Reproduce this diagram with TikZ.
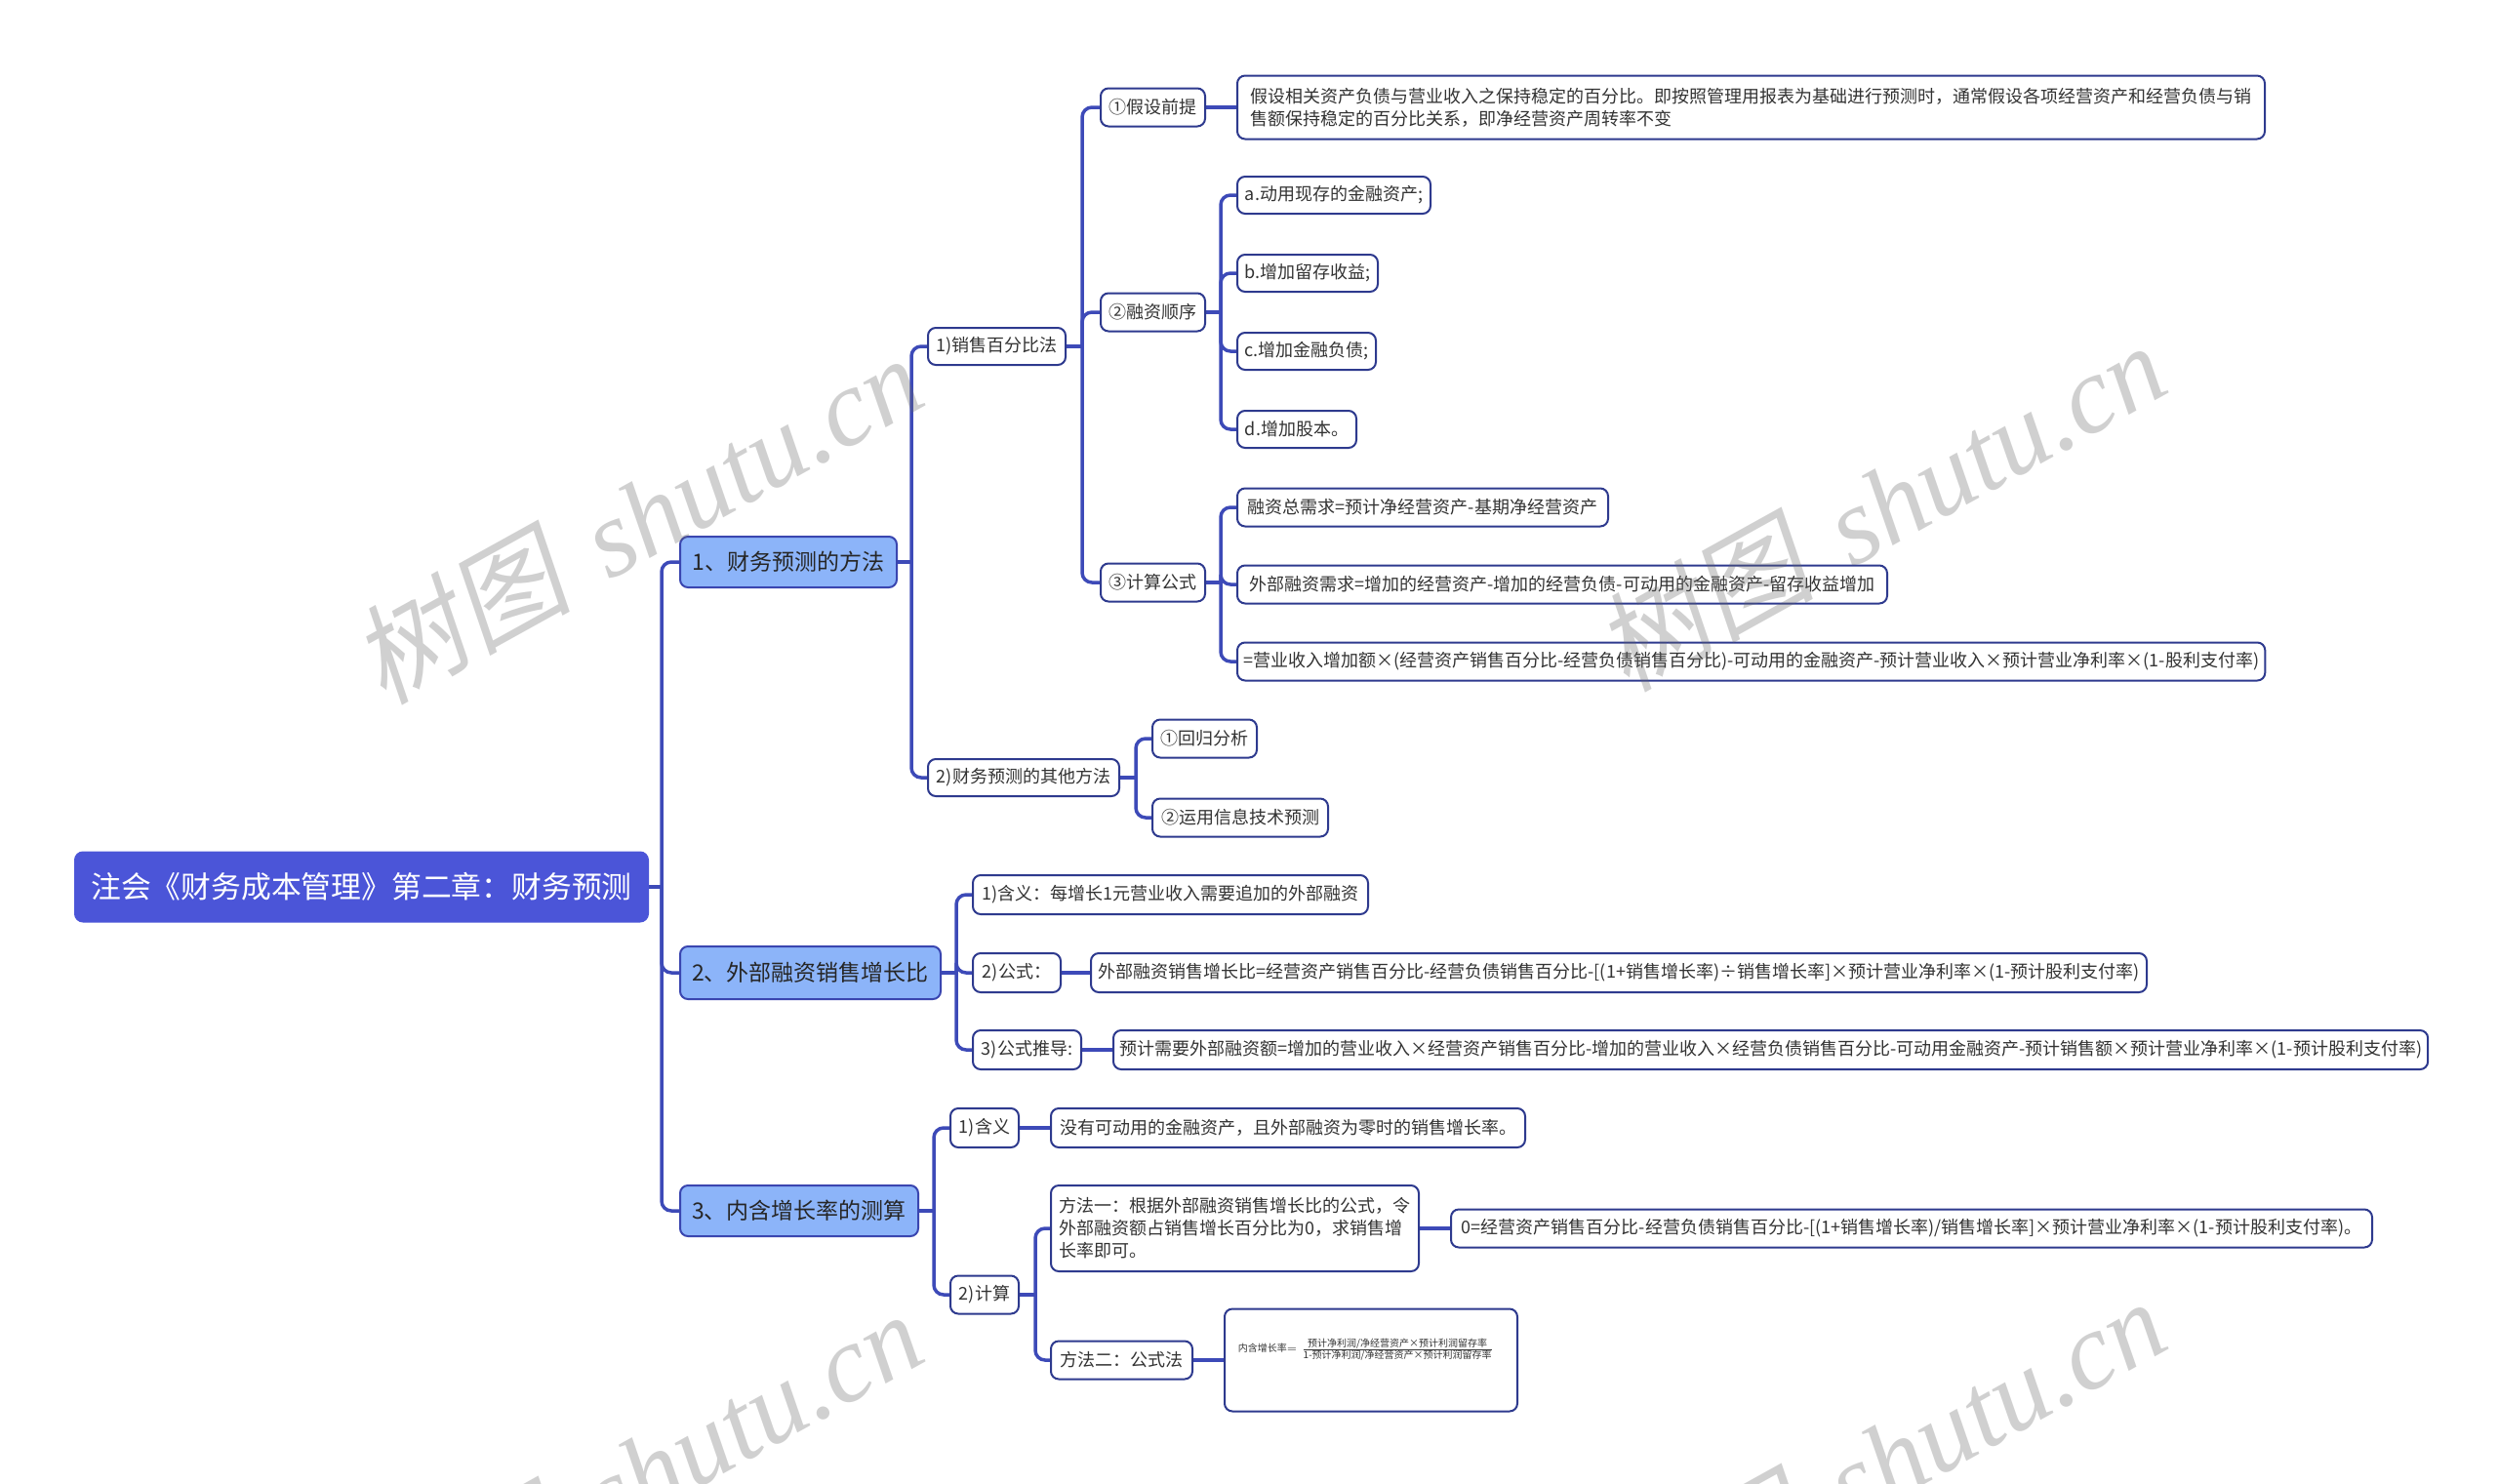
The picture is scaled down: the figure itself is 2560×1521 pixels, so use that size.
\documentclass[tikz,border=0pt]{standalone}
\usepackage{fontspec}
\setmainfont{Noto Sans CJK SC}
\newfontfamily\wmcjk[FakeSlant=0.18]{Noto Sans CJK SC}
\newfontfamily\wmlat{Liberation Serif}
\usetikzlibrary{calc}
\pgfdeclarelayer{bg}
\pgfsetlayers{bg,main}
\definecolor{rootfill}{HTML}{4B55D8}
\definecolor{lvfill}{HTML}{8CB4F9}
\definecolor{lvline}{HTML}{3A46B0}
\definecolor{boxline}{HTML}{2E3A8E}
\definecolor{connc}{HTML}{3D4AB8}
\definecolor{textc}{HTML}{333333}
\tikzset{
  box/.style={draw=boxline, line width=1pt, rounded corners=4pt, fill=white, anchor=west,
    inner xsep=3pt, inner ysep=2pt, font=\fontsize{9}{11.5}\selectfont, text=textc, align=left},
  lvone/.style={box, fill=lvfill, draw=lvline, text=black!85, font=\fontsize{11.5}{14}\selectfont},
  rootnode/.style={box, fill=rootfill, draw=rootfill, text=white, font=\fontsize{15.4}{18}\selectfont},
  conn/.style={draw=connc, line width=1.75pt},
  rconn/.style={conn, rounded corners=5pt},
  wm/.style={rotate=29, text=black!60, text opacity=0.3, inner sep=0pt}
}
\begin{document}
\begin{tikzpicture}[x=0.5pt,y=-0.5pt]
\useasboundingbox (0,0) rectangle (2560,1521);
\begin{pgfonlayer}{bg}
\fill[white] (0,0) rectangle (2560,1521);
\end{pgfonlayer}

% root and level 1
\node[rootnode, minimum width=293.5pt, minimum height=35.5pt] (root) at (76,909) {注会《财务成本管理》第二章：财务预测};
\node[lvone, minimum width=111pt, minimum height=26pt] (n1) at (696,576) {1、财务预测的方法};
\node[lvone, minimum width=133.5pt, minimum height=27pt] (n2) at (696,997) {2、外部融资销售增长比};
\node[lvone, minimum width=122pt, minimum height=26pt] (n3) at (696,1241) {3、内含增长率的测算};

% branch 1
\node[box, minimum width=70.5pt, minimum height=19pt] (a1) at (950,355) {1)销售百分比法};
\node[box, minimum width=98pt, minimum height=19pt] (a2) at (950,797) {2)财务预测的其他方法};
\node[box, minimum width=53.5pt, minimum height=19.5pt] (b1) at (1127,110) {①假设前提};
\node[box, minimum width=53.5pt, minimum height=19.5pt] (b2) at (1127,320) {②融资顺序};
\node[box, minimum width=53.5pt, minimum height=19.5pt] (b3) at (1127,597) {③计算公式};
\node[box, minimum width=526.5pt, minimum height=32.5pt] (b1L) at (1267,110) {假设相关资产负债与营业收入之保持稳定的百分比。即按照管理用报表为基础进行预测时，通常假设各项经营资产和经营负债与销\\售额保持稳定的百分比关系，即净经营资产周转率不变};
\node[box, minimum width=99pt, minimum height=19pt] (c1) at (1267,200) {a.动用现存的金融资产;};
\node[box, minimum width=72pt, minimum height=19pt] (c2) at (1267,280) {b.增加留存收益;};
\node[box, minimum width=71pt, minimum height=19pt] (c3) at (1267,360) {c.增加金融负债;};
\node[box, minimum width=61pt, minimum height=19pt] (c4) at (1267,440) {d.增加股本。};
\node[box, minimum width=190pt, minimum height=19.5pt] (d1) at (1267,520) {融资总需求=预计净经营资产-基期净经营资产};
\node[box, minimum width=333pt, minimum height=19.5pt] (d2) at (1267,599) {外部融资需求=增加的经营资产-增加的经营负债-可动用的金融资产-留存收益增加};
\node[box, minimum width=526.5pt, minimum height=19.5pt] (d3) at (1267,678) {=营业收入增加额×(经营资产销售百分比-经营负债销售百分比)-可动用的金融资产-预计营业收入×预计营业净利率×(1-股利支付率)};
\node[box, minimum width=53.5pt, minimum height=19.5pt] (e1) at (1180,757) {①回归分析};
\node[box, minimum width=90pt, minimum height=19.5pt] (e2) at (1180,838) {②运用信息技术预测};

% branch 2
\node[box, minimum width=202.5pt, minimum height=20pt] (f1) at (996,917) {1)含义：每增长1元营业收入需要追加的外部融资};
\node[box, minimum width=45pt, minimum height=20pt] (f2) at (996,997) {2)公式：};
\node[box, minimum width=55.5pt, minimum height=20pt] (f3) at (996,1076) {3)公式推导:};
\node[box, minimum width=541pt, minimum height=20pt] (f2L) at (1117,997) {外部融资销售增长比=经营资产销售百分比-经营负债销售百分比-[(1+销售增长率)÷销售增长率]×预计营业净利率×(1-预计股利支付率)};
\node[box, minimum width=671pt, minimum height=20pt] (f3L) at (1140,1076) {预计需要外部融资额=增加的营业收入×经营资产销售百分比-增加的营业收入×经营负债销售百分比-可动用金融资产-预计销售额×预计营业净利率×(1-预计股利支付率)};

% branch 3
\node[box, minimum width=35pt, minimum height=20pt] (g1) at (973,1156) {1)含义};
\node[box, minimum width=243pt, minimum height=20pt] (g1L) at (1076,1156) {没有可动用的金融资产，且外部融资为零时的销售增长率。};
\node[box, minimum width=35pt, minimum height=19.5pt] (g2) at (973,1327) {2)计算};
\node[box, minimum width=188.5pt, minimum height=44pt] (h1) at (1076,1259) {方法一：根据外部融资销售增长比的公式，令\\外部融资额占销售增长百分比为0，求销售增\\长率即可。};
\node[box, minimum width=472pt, minimum height=19.5pt] (h1L) at (1486,1259) {0=经营资产销售百分比-经营负债销售百分比-[(1+销售增长率)/销售增长率]×预计营业净利率×(1-预计股利支付率)。};
\node[box, minimum width=72.5pt, minimum height=19.5pt] (h2) at (1076,1394) {方法二：公式法};
\node[box, minimum width=150pt, minimum height=52.5pt] (h2L) at (1254,1394) {};
\node[inner sep=0pt, text=textc, font=\fontsize{5}{6}\selectfont] (fml) at (1400,1383) {内含增长率$=\frac{\mbox{预计净利润/净经营资产×预计利润留存率}}{\mbox{1-预计净利润/净经营资产×预计利润留存率}}$};

% trunk coordinates
\coordinate (t0) at (678,909);
\coordinate (t1) at (934,576);
\coordinate (t2) at (1109,355);
\coordinate (t3) at (1251,320);
\coordinate (t4) at (1251,597);
\coordinate (t5) at (1164,797);
\coordinate (t6) at (980,997);
\coordinate (t7) at (957,1241);
\coordinate (t8) at (1061,1327);

\begin{pgfonlayer}{bg}
\draw[conn] (root.east) -- (t0);
\foreach \c in {n1,n2,n3} \draw[rconn] (t0) |- (\c.west);
\draw[conn] (n1.east) -- (t1);
\foreach \c in {a1,a2} \draw[rconn] (t1) |- (\c.west);
\draw[conn] (a1.east) -- (t2);
\foreach \c in {b1,b2,b3} \draw[rconn] (t2) |- (\c.west);
\draw[conn] (b1.east) -- (b1L.west);
\draw[conn] (b2.east) -- (t3);
\foreach \c in {c1,c2,c3,c4} \draw[rconn] (t3) |- (\c.west);
\draw[conn] (b3.east) -- (t4);
\foreach \c in {d1,d2,d3} \draw[rconn] (t4) |- (\c.west);
\draw[conn] (a2.east) -- (t5);
\foreach \c in {e1,e2} \draw[rconn] (t5) |- (\c.west);
\draw[conn] (n2.east) -- (t6);
\foreach \c in {f1,f2,f3} \draw[rconn] (t6) |- (\c.west);
\draw[conn] (f2.east) -- (f2L.west);
\draw[conn] (f3.east) -- (f3L.west);
\draw[conn] (n3.east) -- (t7);
\foreach \c in {g1,g2} \draw[rconn] (t7) |- (\c.west);
\draw[conn] (g1.east) -- (g1L.west);
\draw[conn] (g2.east) -- (t8);
\foreach \c in {h1,h2} \draw[rconn] (t8) |- (\c.west);
\draw[conn] (h1.east) -- (h1L.west);
\draw[conn] (h2.east) -- (h2L.west);
\end{pgfonlayer}

% watermarks
\begin{scope}
\clip (0,0) rectangle (2560,1521);
\node[wm] (wm1) at (653,531) {\fontsize{56}{60}\selectfont{\wmcjk 树图}\hspace{0.35em}{\wmlat\itshape shutu.cn}};
\node[wm] (wm2) at (1927,518) {\fontsize{56}{60}\selectfont{\wmcjk 树图}\hspace{0.35em}{\wmlat\itshape shutu.cn}};
\node[wm] (wm3) at (653,1511) {\fontsize{56}{60}\selectfont{\wmcjk 树图}\hspace{0.35em}{\wmlat\itshape shutu.cn}};
\node[wm] (wm4) at (1927,1498) {\fontsize{56}{60}\selectfont{\wmcjk 树图}\hspace{0.35em}{\wmlat\itshape shutu.cn}};
\end{scope}
\end{tikzpicture}
\end{document}
